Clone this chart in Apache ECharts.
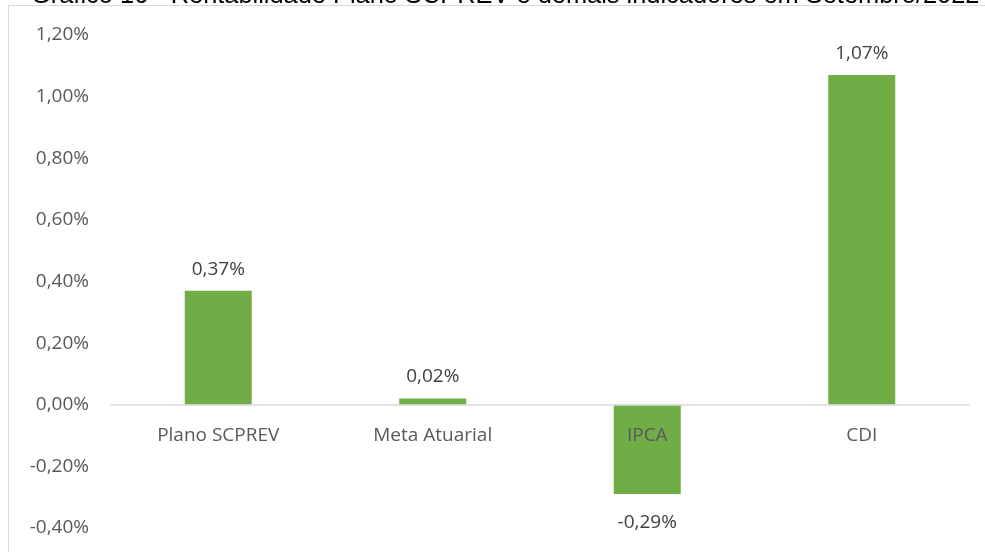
<!DOCTYPE html>
<html>
<head>
<meta charset="utf-8">
<script src="https://cdn.jsdelivr.net/npm/echarts@6/dist/echarts.min.js"></script>
<style>
  html, body { margin: 0; padding: 0; background: #fff; }
  #chart { width: 985px; height: 552px; }
</style>
</head>
<body>
<div id="chart"></div>
<script>
// dados do gráfico
var categorias = ['Plano SCPREV', 'Meta Atuarial', 'IPCA', 'CDI'];
var rentabilidade = [0.37, 0.02, -0.29, 1.07];
var yMin = -0.4, yMax = 1.2, yStep = 0.2;
var titulo = 'Gráfico 16 - Rentabilidade Plano SCPREV e demais indicadores em Setembro/2022';

var fmt = function(v) {
  return v.toFixed(2).replace('.', ',') + '%';
};

var W = 985, H = 552;
var grid = { left: 111, right: 16, top: 35, bottom: 24 };
// eixo x desenhado na linha do zero (rótulos junto)
var zeroOffset = (0 - yMin) / (yMax - yMin) * (H - grid.top - grid.bottom);

var chart = echarts.init(document.getElementById('chart'));

var barData = rentabilidade.map(function(v) {
  return {
    value: v,
    label: { position: v < 0 ? 'bottom' : 'top', distance: v < 0 ? 19 : 12 }
  };
});

var option = {
  animation: false,
  backgroundColor: '#fff',
  graphic: [
    {
      type: 'rect',
      shape: { x: 8.5, y: 5.5, width: 1100, height: 700 },
      style: { fill: 'none', stroke: '#d9d9d9', lineWidth: 1 },
      silent: true
    },
    {
      type: 'text',
      left: 31,
      top: -17,
      style: {
        text: titulo,
        font: '25.4px "Liberation Sans", Arial, sans-serif',
        fill: '#000'
      },
      silent: true
    }
  ],
  grid: {
    left: grid.left, right: grid.right, top: grid.top, bottom: grid.bottom,
    containLabel: false,
    outerBoundsMode: 'none'
  },
  xAxis: {
    type: 'category',
    data: categorias,
    z: 10,
    position: 'bottom',
    offset: -zeroOffset,
    axisLine: { onZero: false, lineStyle: { color: '#d9d9d9', width: 1.5 } },
    axisTick: { show: false },
    axisLabel: {
      color: '#595959',
      fontFamily: '"Open Sans", sans-serif',
      fontSize: 19,
      margin: 21
    }
  },
  yAxis: {
    type: 'value',
    min: yMin,
    max: yMax,
    interval: yStep,
    axisLine: { show: false },
    axisTick: { show: false },
    splitLine: { show: false },
    axisLabel: {
      color: '#595959',
      fontFamily: '"Open Sans", sans-serif',
      fontSize: 19,
      margin: 22,
      formatter: function(v) { return fmt(v); }
    }
  },
  series: [{
    type: 'bar',
    data: barData,
    barWidth: 67,
    itemStyle: { color: '#70ad47' },
    label: {
      show: true,
      color: '#404040',
      fontFamily: '"Open Sans", sans-serif',
      fontSize: 19,
      formatter: function(p) { return fmt(p.value); }
    }
  }]
};

chart.setOption(option);
</script>
</body>
</html>
